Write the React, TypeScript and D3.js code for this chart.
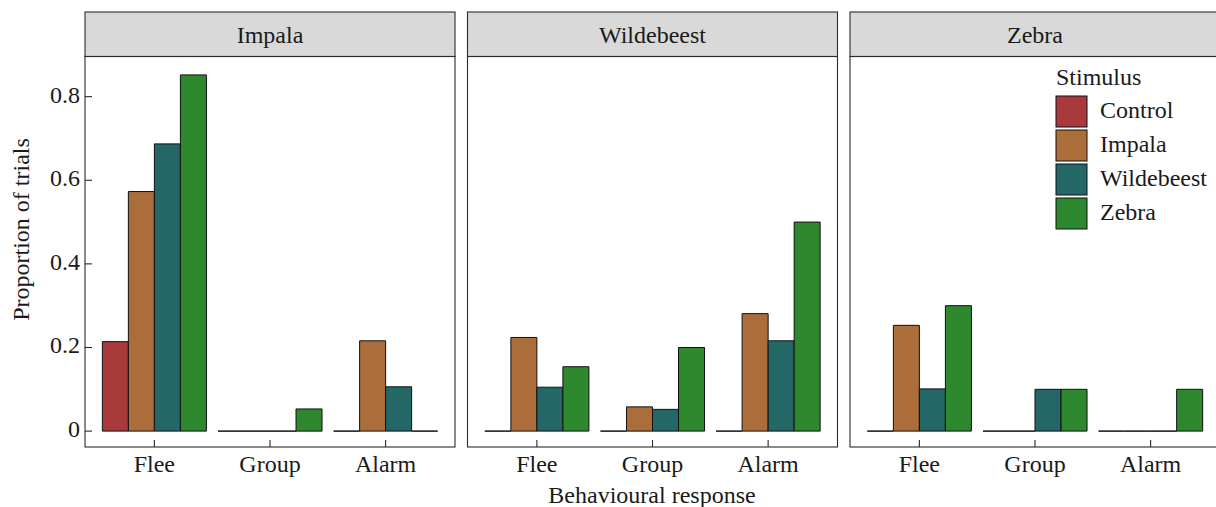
import React from "react";
import * as d3 from "d3";

const panels = ["Impala", "Wildebeest", "Zebra"];
const responses = ["Flee", "Group", "Alarm"];
const stimuli = ["Control", "Impala", "Wildebeest", "Zebra"];
const stimulusColors = ["#a83a3b", "#ab6d3a", "#236767", "#2e882e"];
const yTicks = [0, 0.2, 0.4, 0.6, 0.8];
const yTickLabels = ["0", "0.2", "0.4", "0.6", "0.8"];

// rows = response (Flee, Group, Alarm), columns = stimulus
const impalaValues = [
  [0.214, 0.573, 0.687, 0.852],
  [0, 0, 0, 0.053],
  [0, 0.216, 0.106, 0],
];
const wildebeestValues = [
  [0, 0.224, 0.105, 0.154],
  [0, 0.058, 0.052, 0.2],
  [0, 0.281, 0.216, 0.5],
];
const zebraValues = [
  [0, 0.253, 0.101, 0.3],
  [0, 0, 0.1, 0.1],
  [0, 0, 0, 0.1],
];
const panelValues = [impalaValues, wildebeestValues, zebraValues];

const W = 1216;
const H = 507;
const FONT = "'Liberation Serif', 'Times New Roman', serif";
const FS = 24;
const INK = "#1a1a1a";
const BORDER = "#2b2b2b";

export default function App() {
  const panelW = 370;
  const stripTop = 12;
  const stripBottom = 56.5;
  const plotBottom = 447;

  const panelX = d3
    .scaleBand<string>()
    .domain(panels)
    .range([85, 85 + 3 * panelW + 2 * 12.5])
    .paddingInner(12.5 / (panelW + 12.5));

  const y = d3.scaleLinear().domain([-0.038, 0.896]).range([plotBottom, stripBottom]);

  const x = d3.scalePoint<string>().domain(responses).range([0, panelW]).padding(0.6);
  const step = x.step();
  const xInner = d3
    .scaleBand<string>()
    .domain(stimuli)
    .range([-0.45 * step, 0.45 * step]);

  const barPath = (x0: number, w: number, v: number) => {
    const p = d3.path();
    const y0 = y(0);
    const y1 = y(v);
    p.moveTo(x0, y0);
    p.lineTo(x0, y1);
    p.lineTo(x0 + w, y1);
    p.lineTo(x0 + w, y0);
    p.closePath();
    return p.toString();
  };

  const legendX = 1056;
  const legendTop = 96;
  const keySize = 31;
  const keyStep = 34;

  return (
    <svg
      width={W}
      height={H}
      style={{ position: "absolute", left: 0, top: 0, background: "#fff" }}
      fontFamily={FONT}
    >
      {panels.map((panel, pi) => {
        const left = panelX(panel)!;
        const values = panelValues[pi];
        return (
          <g key={panel}>
            <rect
              x={left}
              y={stripTop}
              width={panelW}
              height={stripBottom - stripTop}
              fill="#d9d9d9"
              stroke={BORDER}
              strokeWidth={1.1}
            />
            <text
              x={left + panelW / 2}
              y={43}
              textAnchor="middle"
              fontSize={FS}
              fill={INK}
            >
              {panel}
            </text>
            <g transform={`translate(${left},0)`}>
              {responses.map((resp, ri) =>
                stimuli.map((stim, si) => (
                  <path
                    key={resp + stim}
                    d={barPath(x(resp)! + xInner(stim)!, xInner.bandwidth(), values[ri][si])}
                    fill={stimulusColors[si]}
                    stroke="#111"
                    strokeWidth={1}
                  />
                ))
              )}
              {responses.map((resp) => (
                <g key={resp}>
                  <line
                    x1={x(resp)}
                    x2={x(resp)}
                    y1={plotBottom}
                    y2={plotBottom - 7}
                    stroke={BORDER}
                    strokeWidth={1.1}
                  />
                  <text
                    x={x(resp)}
                    y={472}
                    textAnchor="middle"
                    fontSize={FS}
                    fill={INK}
                  >
                    {resp}
                  </text>
                </g>
              ))}
            </g>
            <rect
              x={left}
              y={stripBottom}
              width={panelW}
              height={plotBottom - stripBottom}
              fill="none"
              stroke={BORDER}
              strokeWidth={1.1}
            />
            {pi === 0 &&
              yTicks.map((t, ti) => (
                <g key={t}>
                  <line
                    x1={left}
                    x2={left + 7}
                    y1={y(t)}
                    y2={y(t)}
                    stroke={BORDER}
                    strokeWidth={1.1}
                  />
                  <text x={80} y={y(t) + 6} textAnchor="end" fontSize={FS} fill={INK}>
                    {yTickLabels[ti]}
                  </text>
                </g>
              ))}
          </g>
        );
      })}

      <text
        transform={`translate(28.5,${(stripTop + plotBottom) / 2}) rotate(-90)`}
        textAnchor="middle"
        fontSize={FS}
        fill={INK}
      >
        Proportion of trials
      </text>
      <text x={652} y={503} textAnchor="middle" fontSize={FS} fill={INK}>
        Behavioural response
      </text>

      <g>
        <text x={legendX} y={85} fontSize={FS} fill={INK}>
          Stimulus
        </text>
        {stimuli.map((s, i) => (
          <g key={s}>
            <rect
              x={legendX}
              y={legendTop + i * keyStep}
              width={keySize}
              height={keySize}
              fill={stimulusColors[i]}
              stroke="#111"
              strokeWidth={1}
            />
            <text
              x={1100}
              y={legendTop + i * keyStep + keySize / 2 + 6}
              fontSize={FS}
              fill={INK}
            >
              {s}
            </text>
          </g>
        ))}
      </g>
    </svg>
  );
}
